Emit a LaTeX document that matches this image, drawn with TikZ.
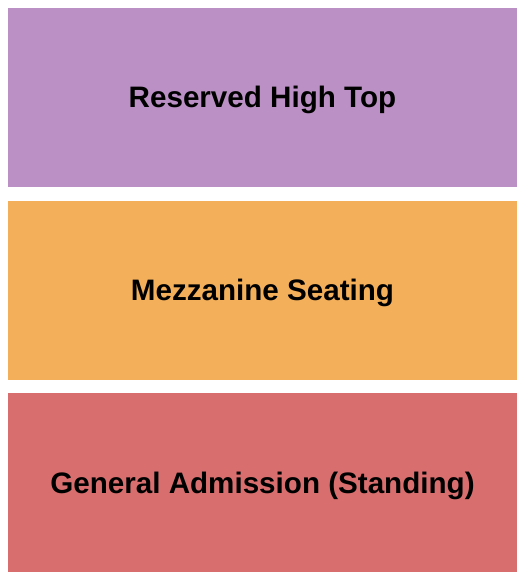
\documentclass[tikz,border=0pt]{standalone}
\usepackage{fontspec}
\setmainfont{Liberation Sans}
\usepackage{xcolor}
\usepackage{tikz}
\usetikzlibrary{positioning}

\definecolor{hightop}{RGB}{187,144,196}
\definecolor{mezz}{RGB}{243,175,90}
\definecolor{ga}{RGB}{216,110,110}

\begin{document}
\begin{tikzpicture}[x=1pt, y=1pt,
	zone/.style={minimum width=509pt, minimum height=179pt, inner sep=0pt, text height=21pt, text depth=0pt, font=\fontsize{29.6}{34}\selectfont\bfseries, text=black}]
	\useasboundingbox (0,0) rectangle (525,-580);

	% seating zones
	\foreach \lbl/\col [count=\n] in {
		Reserved High Top/hightop,
		Mezzanine Seating/mezz,
		General Admission (Standing)/ga} {
		\node[zone, fill=\col] (zone\n) at (262.5, {-97.5-192.5*(\n-1)}) {\lbl};
	}

\end{tikzpicture}
\end{document}
